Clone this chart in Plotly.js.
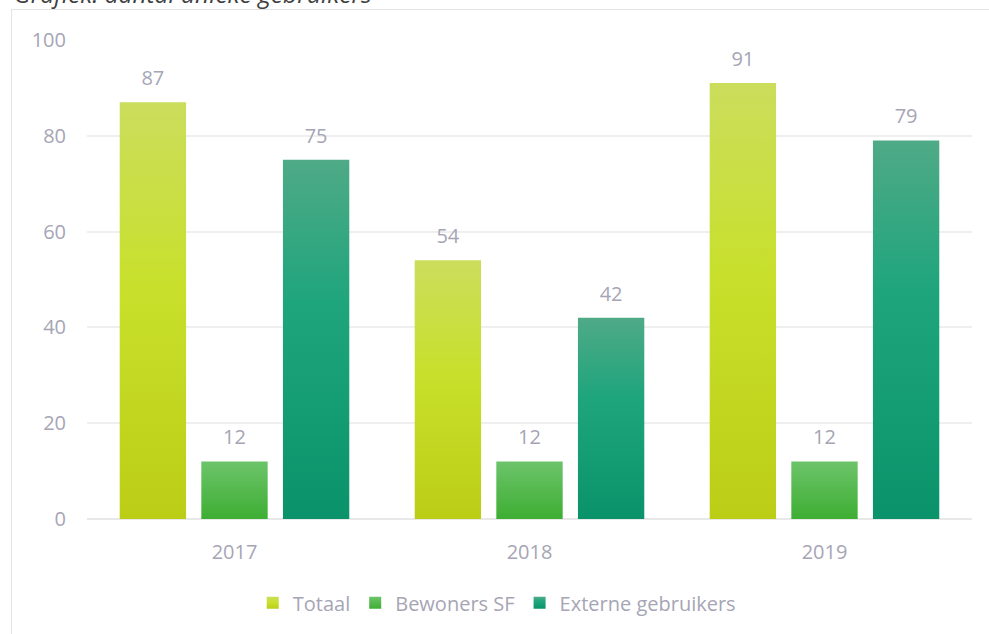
<!DOCTYPE html>
<html>
<head>
<meta charset="utf-8">
<script src="https://cdn.plot.ly/plotly-3.0.1.min.js"></script>
<style>
html,body{margin:0;padding:0;background:#fff;overflow:hidden;}
#frame{position:absolute;left:11px;top:9px;width:1100px;height:800px;border:1px solid #e4e4e4;box-sizing:border-box;}
#chart{position:absolute;left:0;top:0;width:989px;height:634px;}
</style>
</head>
<body>
<div id="frame"></div>
<div id="chart"></div>
<script>
// ---- data ----
var years = ['2017', '2018', '2019'];
var seriesNames = ['Totaal', 'Bewoners SF', 'Externe gebruikers'];
var totaal = [87, 54, 91];
var bewoners = [12, 12, 12];
var externe = [75, 42, 79];
var chartTitle = 'Grafiek: aantal unieke gebruikers';

// ---- styles ----
var baseColors = ['#c7db2a', '#50b743', '#16a078'];
var gradStops = [
  [['0%', '#cbdd5c'], ['45%', '#c8e02b'], ['100%', '#bccd16']],
  [['0%', '#6cc46a'], ['100%', '#3eae33']],
  [['0%', '#4faa87'], ['40%', '#1ea57c'], ['100%', '#0a936a']]
];
var textColor = '#a6a5b5';
var fontFamily = '"Open Sans", "DejaVu Sans", sans-serif';

var seriesValues = [totaal, bewoners, externe];
var data = [];
seriesValues.forEach(function (vals, i) {
  data.push({
    type: 'bar', name: seriesNames[i], x: years, y: vals,
    offsetgroup: 'g' + i,
    marker: { color: baseColors[i] }, hoverinfo: 'skip'
  });
});
seriesValues.forEach(function (vals, i) {
  data.push({
    type: 'scatter', mode: 'markers+text', x: years, y: vals,
    text: vals.map(String), textposition: 'top center',
    textfont: { size: 20, color: textColor, family: fontFamily },
    marker: { size: 18, opacity: 0, color: baseColors[i] },
    offsetgroup: 'g' + i, showlegend: false, hoverinfo: 'skip', cliponaxis: false
  });
});

var layout = {
  width: 989, height: 634,
  margin: { l: 87, r: 17, t: 40, b: 113 },
  paper_bgcolor: 'rgba(0,0,0,0)', plot_bgcolor: 'rgba(0,0,0,0)',
  font: { family: fontFamily, size: 20, color: textColor },
  barmode: 'group', bargap: 0.17, bargroupgap: 0.187,
  scattermode: 'group', scattergap: 0.17,
  xaxis: {
    type: 'category', showgrid: false, showline: false, zeroline: false, ticks: '',
    tickfont: { size: 20, color: textColor }, ticklabelstandoff: 19
  },
  yaxis: {
    range: [0, 100], dtick: 20, tick0: 0, showline: false, ticks: '',
    gridcolor: '#efefef', gridwidth: 2,
    zeroline: true, zerolinecolor: '#e8e8e8', zerolinewidth: 2,
    tickfont: { size: 20, color: textColor }, ticklabelstandoff: 20
  },
  showlegend: true,
  legend: {
    orientation: 'h', x: 0.463, xanchor: 'center', y: -0.175, yanchor: 'middle',
    itemwidth: 30,
    font: { size: 20, color: textColor }, itemclick: false, bgcolor: 'rgba(0,0,0,0)'
  },
  annotations: [{
    text: '<i>' + chartTitle + '</i>', xref: 'paper', yref: 'paper',
    x: -0.085, xanchor: 'left', y: 1.059, yanchor: 'bottom',
    showarrow: false, font: { size: 24.5, color: '#404040', family: fontFamily }
  }]
};

var gd = document.getElementById('chart');
Plotly.newPlot(gd, data, layout, { staticPlot: true, displayModeBar: false }).then(function () {
  var ns = 'http://www.w3.org/2000/svg';
  var svg = gd.querySelector('.main-svg');
  var defs = document.createElementNS(ns, 'defs');
  gradStops.forEach(function (stops, i) {
    var lg = document.createElementNS(ns, 'linearGradient');
    lg.setAttribute('id', 'barGrad' + i);
    lg.setAttribute('x1', '0'); lg.setAttribute('y1', '0');
    lg.setAttribute('x2', '0'); lg.setAttribute('y2', '1');
    stops.forEach(function (s) {
      var st = document.createElementNS(ns, 'stop');
      st.setAttribute('offset', s[0]);
      st.setAttribute('stop-color', s[1]);
      lg.appendChild(st);
    });
    defs.appendChild(lg);
  });
  svg.insertBefore(defs, svg.firstChild);
  gd.querySelectorAll('.barlayer .trace').forEach(function (t, i) {
    t.querySelectorAll('path').forEach(function (p) { p.style.fill = 'url(#barGrad' + i + ')'; });
  });
  gd.querySelectorAll('.legend .traces').forEach(function (t, i) {
    t.querySelectorAll('.legendpoints path').forEach(function (p) { p.style.fill = 'url(#barGrad' + i + ')'; });
  });
});
</script>
</body>
</html>
